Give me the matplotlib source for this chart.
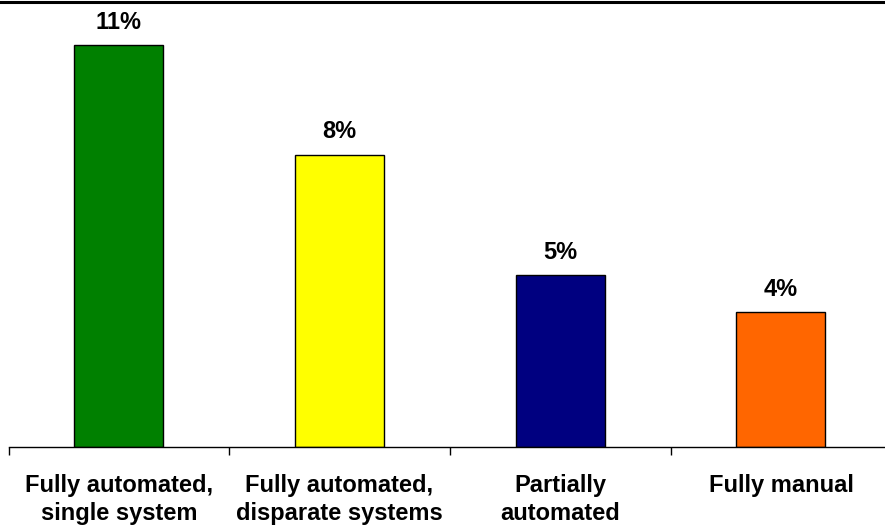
import matplotlib
matplotlib.use("Agg")
import matplotlib.pyplot as plt
from matplotlib.lines import Line2D

categories = ["Fully automated,\nsingle system",
              "Fully automated,\ndisparate systems",
              "Partially\nautomated",
              "Fully manual"]
values = [11.0, 8.0, 4.7, 3.7]
colors = ["#008000", "#FFFF00", "#000080", "#FF6600"]

plt.rcParams["font.family"] = ["Liberation Sans", "DejaVu Sans"]

W, H = 885, 527
fig = plt.figure(figsize=(W / 100, H / 100), dpi=100)
ax = fig.add_axes([8.5 / W, 80 / H, (891.3 - 8.5) / W, 1 - 80 / H])

x = list(range(len(categories)))
bars = ax.bar(x, values, width=0.403, color=colors, edgecolor="black", linewidth=1.0)

for b, v in zip(bars, values):
    ax.annotate(f"{v:.0f}%", (b.get_x() + b.get_width() / 2, v),
                xytext=(0, 8), textcoords="offset points",
                ha="center", va="bottom", fontsize=17, fontweight="bold")

ax.set_xlim(-0.5, 3.5)
ax.set_ylim(0, 12.23)
ax.set_yticks([])
for s in ("left", "right", "top"):
    ax.spines[s].set_visible(False)
ax.spines["bottom"].set_linewidth(1.0)

ax.set_xticks(x)
ax.set_xticklabels(categories, fontsize=17, fontweight="bold", linespacing=1.28)
ax.tick_params(axis="x", which="major", length=0, pad=19.5)
ax.set_xticks([i - 0.5 for i in range(len(categories) + 1)], minor=True)
ax.tick_params(axis="x", which="minor", length=5.5, width=1.0, direction="out")

# heavy rule along the top edge
fig.add_artist(Line2D([0, 1], [1 - 1.5 / H, 1 - 1.5 / H], transform=fig.transFigure,
                      color="black", linewidth=2.2))

fig.savefig("out.png", dpi=100)
